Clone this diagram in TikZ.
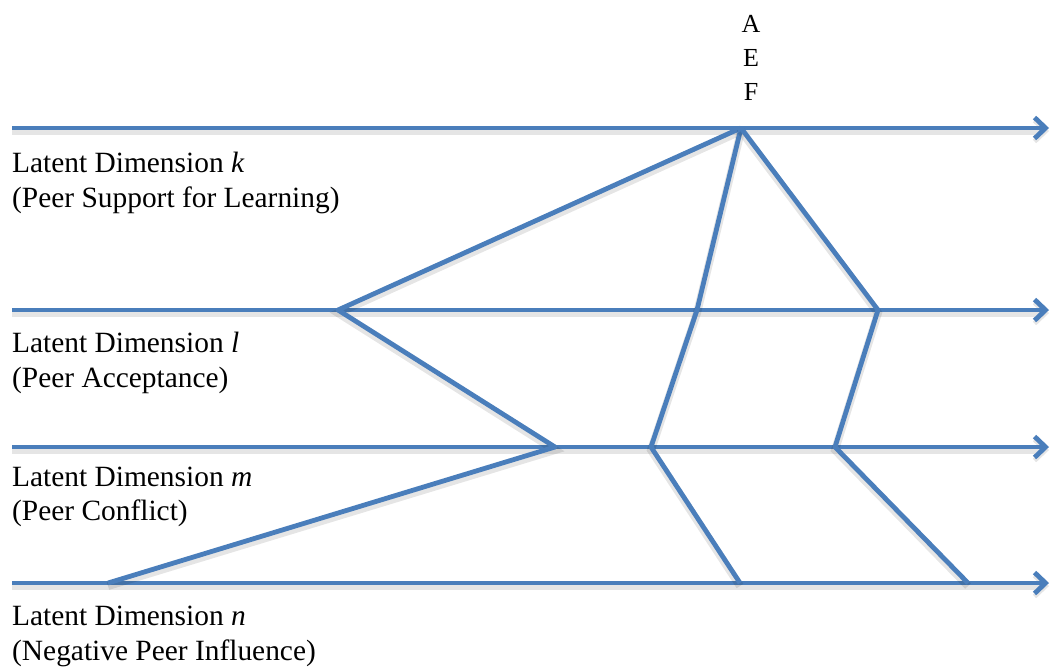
\documentclass[tikz,border=0pt]{standalone}
\usepackage{fontspec}
\setmainfont{Liberation Serif}
\usetikzlibrary{arrows.meta}
\definecolor{lineblue}{HTML}{4A7EBB}
\tikzset{
  shadowed/.style={preaction={draw=black, draw opacity=0.10, line width=8pt, transform canvas={yshift=-3pt}}},
  axis/.style={draw=lineblue, line width=4.8pt, shadowed, -{Straight Barb[length=11pt,width=21pt,line width=4.8pt]}},
  link/.style={draw=lineblue, line width=4.8pt, shadowed, line join=round},
  lab/.style={anchor=base west, inner sep=0pt, font=\fontsize{29.4}{35}\selectfont},
  letter/.style={anchor=base, inner sep=0pt, font=\fontsize{26}{32}\selectfont}
}
\begin{document}
\begin{tikzpicture}[x=1pt,y=-1pt]
\useasboundingbox (0,0) rectangle (1051,667);
% axis endpoints
\coordinate (s1) at (12,128);  \coordinate (e1) at (1049,128);
\coordinate (s2) at (12,310);  \coordinate (e2) at (1049,310);
\coordinate (s3) at (12,447);  \coordinate (e3) at (1049,447);
\coordinate (s4) at (12,583);  \coordinate (e4) at (1049,583);
% profile points
\coordinate (top) at (741,128);
\coordinate (p1) at (338,310);
\coordinate (p2) at (555,447);
\coordinate (p3) at (108,583);
\coordinate (q1) at (697,310);
\coordinate (q2) at (651,447);
\coordinate (q3) at (740,583);
\coordinate (r1) at (878,310);
\coordinate (r2) at (835,447);
\coordinate (r3) at (968,583);
% axes
\draw[axis] (s1) -- (e1);
\draw[axis] (s2) -- (e2);
\draw[axis] (s3) -- (e3);
\draw[axis] (s4) -- (e4);
% profiles
\draw[link] (top) -- (p1) -- (p2) -- (p3);
\draw[link] (top) -- (q1) -- (q2) -- (q3);
\draw[link] (top) -- (r1) -- (r2) -- (r3);
% letters
\node[letter] (la) at (751,32) {A};
\node[letter] (le) at (751,66) {E};
\node[letter] (lf) at (751,100) {F};
% labels
\node[lab] (k1) at (12,172) {Latent Dimension \textit{k}};
\node[lab] (k2) at (12,207) {(Peer Support for Learning)};
\node[lab] (l1) at (12,352) {Latent Dimension \textit{l}};
\node[lab] (l2) at (12,387) {(Peer Acceptance)};
\node[lab] (m1) at (12,486) {Latent Dimension \textit{m}};
\node[lab] (m2) at (12,520) {(Peer Conflict)};
\node[lab] (n1) at (12,625) {Latent Dimension \textit{n}};
\node[lab] (n2) at (12,660) {(Negative Peer Influence)};
\end{tikzpicture}
\end{document}
